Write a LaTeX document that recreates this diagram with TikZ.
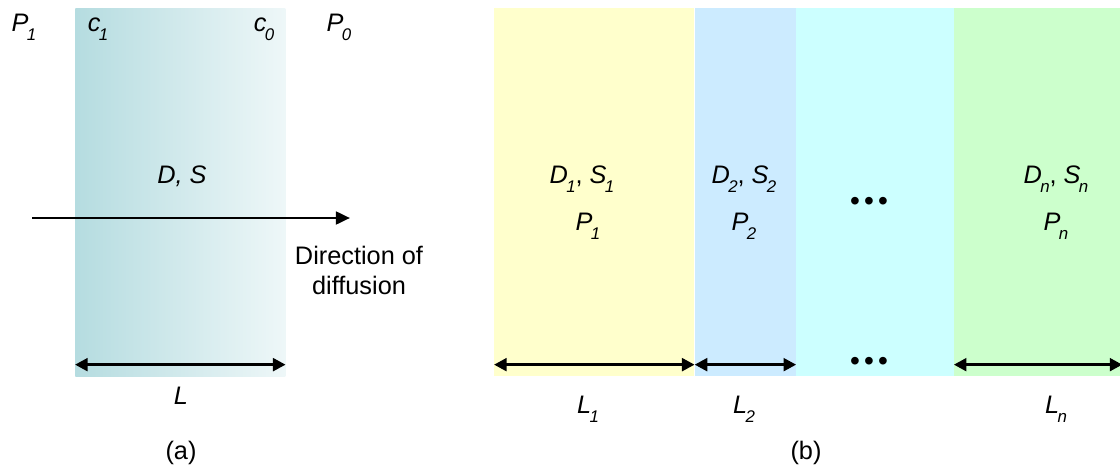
\documentclass[tikz,border=0pt]{standalone}
\usepackage{fontspec}
\setmainfont{Liberation Sans}
\usepackage{xcolor}
\usetikzlibrary{arrows.meta}

\definecolor{memL}{RGB}{181,220,224}
\definecolor{memR}{RGB}{238,247,248}
\definecolor{layA}{RGB}{255,255,204}
\definecolor{layB}{RGB}{204,235,255}
\definecolor{layC}{RGB}{204,255,255}
\definecolor{layD}{RGB}{204,255,204}
\newcommand{\vsub}[2]{\textit{#1}\kern-1.2pt\raisebox{-0.7ex}{\fontsize{12}{13}\selectfont\textit{#2}}}
\newcommand{\laydots}{\fontsize{20}{22}\selectfont\textbullet\hspace{3pt}\textbullet\hspace{3pt}\textbullet}

\begin{document}
\begin{tikzpicture}[
  x=0.025cm, y=-0.025cm,
  layer/.style={draw=none, minimum height=9.2cm, inner sep=0pt, anchor=north west},
  txt/.style={font=\fontsize{18}{21.5}\selectfont, inner sep=0pt, anchor=base},
  dim/.style={{Triangle[length=9pt,width=9pt]}-{Triangle[length=9pt,width=9pt]}, line width=2.2pt},
  flow/.style={-{Triangle[length=10pt,width=9pt]}, line width=2pt}
]
\useasboundingbox (0,0) rectangle (1120,474);

% (a) single membrane
\node[layer, minimum width=5.25cm, left color=memL, right color=memR] (mem) at (75,8) {};
\node[txt] (pin)  at (24,31)  {\vsub{P}{1}};
\node[txt] (cin)  at (98,31)  {\vsub{c}{1}};
\node[txt] (cout) at (264,31) {\vsub{c}{0}};
\node[txt] (pout) at (339,31) {\vsub{P}{0}};
\node[txt] (ds)   at (182,183) {\textit{D, S}};
\coordinate (flowA) at (32,218);
\coordinate (flowB) at (350,218);
\draw[flow] (flowA) -- (flowB);
\node[txt, anchor=north, align=center] (dir) at (359,246) {Direction of\\diffusion};
\draw[dim] ([yshift=0.3cm]mem.south west) -- ([yshift=0.3cm]mem.south east);
\node[txt] (len) at (181,404) {\textit{L}};
\node[txt] (capa) at (181,459) {(a)};

% (b) laminate
\node[layer, minimum width=5cm,     fill=layA] (lay1) at (494,8) {};
\node[layer, minimum width=2.525cm, fill=layB] (lay2) at (lay1.north east) {};
\node[layer, minimum width=3.925cm, fill=layC] (lay3) at (lay2.north east) {};
\node[layer, minimum width=4.2cm,   fill=layD] (layn) at (lay3.north east) {};

\node[txt] (ds1) at (582,183) {\vsub{D}{1}, \vsub{S}{1}};
\node[txt] (p1)  at (588,230) {\vsub{P}{1}};
\node[txt] (ds2) at (744,183) {\vsub{D}{2}, \vsub{S}{2}};
\node[txt] (p2)  at (744,230) {\vsub{P}{2}};
\node[txt] (dsn) at (1056,183) {\vsub{D}{n}, \vsub{S}{n}};
\node[txt] (pn)  at (1056,230) {\vsub{P}{n}};
\node[txt] (dots) at (869,210) {\laydots};

\draw[dim] ([yshift=0.3cm]lay1.south west) -- ([yshift=0.3cm]lay1.south east);
\draw[dim] ([yshift=0.3cm]lay2.south west) -- ([yshift=0.3cm]lay2.south east);
\draw[dim] ([yshift=0.3cm]layn.south west) -- ([yshift=0.3cm]layn.south east);
\node[txt] (dotsL) at (869,370) {\laydots};

\node[txt] (len1) at (588,413) {\vsub{L}{1}};
\node[txt] (len2) at (744,413) {\vsub{L}{2}};
\node[txt] (lenn) at (1056,413) {\vsub{L}{n}};
\node[txt] (capb) at (806,459) {(b)};
\end{tikzpicture}
\end{document}
